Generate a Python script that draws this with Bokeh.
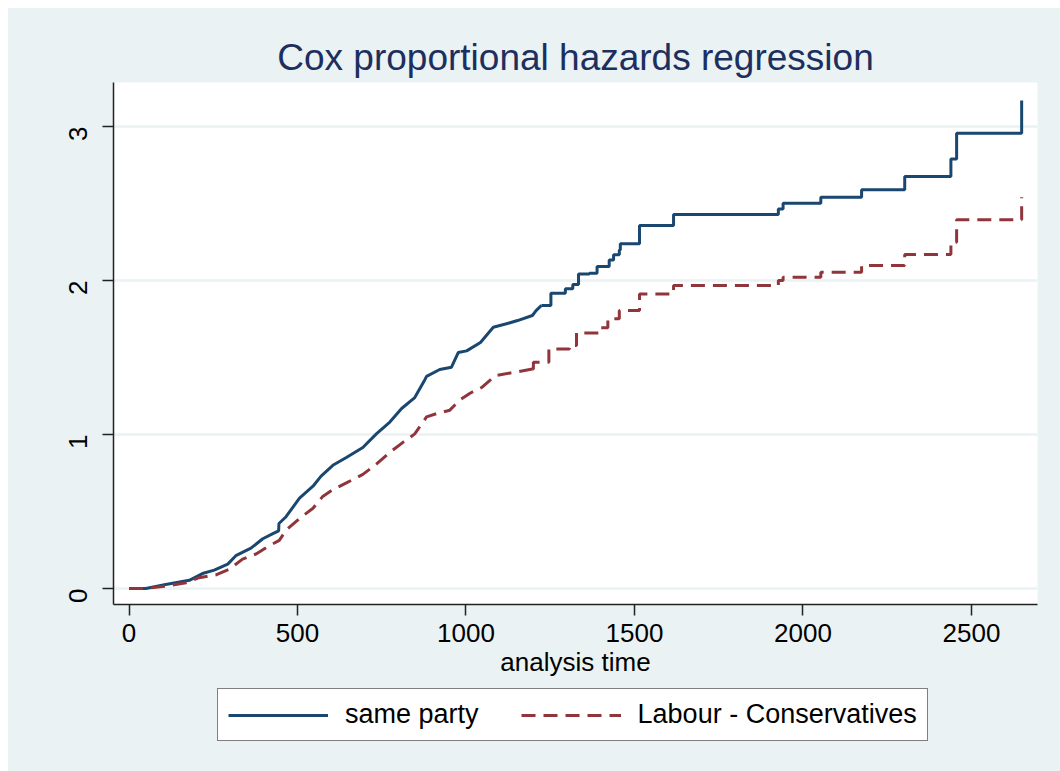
import math
from bokeh.plotting import figure
from bokeh.layouts import column
from bokeh.models import Range1d, FixedTicker, Legend, LegendItem
from bokeh.embed import file_html
from bokeh.resources import INLINE

# ---- data ----
# "same party": dense early part (many small steps) and sparse later steps
same_dense_t = [0, 50, 109, 179, 218, 253, 293, 317, 362, 397, 427, 444, 445, 466, 506, 546,
                570, 605, 645, 694, 734, 774, 809, 848, 878, 883, 922, 957, 977, 1002, 1043,
                1081, 1120, 1153, 1197, 1208, 1224]
same_dense_h = [0, 0, 0.026, 0.053, 0.097, 0.119, 0.158, 0.213, 0.262, 0.323, 0.356, 0.374, 0.422,
                0.466, 0.587, 0.664, 0.730, 0.800, 0.851, 0.916, 1.004, 1.081, 1.169, 1.240, 1.356,
                1.378, 1.422, 1.437, 1.532, 1.543, 1.598, 1.697, 1.719, 1.740, 1.773, 1.805, 1.838]
same_step_t = [1224, 1252, 1295, 1317, 1334, 1366, 1389, 1425, 1438, 1455, 1458, 1515, 1616,
               1927, 1941, 2053, 2174, 2302, 2439, 2456, 2649]
same_step_h = [1.838, 1.918, 1.946, 1.974, 2.043, 2.048, 2.091, 2.134, 2.167, 2.199, 2.238, 2.357,
               2.429, 2.465, 2.502, 2.541, 2.589, 2.675, 2.790, 2.957, 3.169]

# "Labour - Conservatives"
lab_dense_t = [0, 45, 109, 169, 208, 258, 298, 337, 377, 417, 446, 466, 506, 546, 575, 605, 645,
               694, 734, 774, 813, 848, 883, 913, 952, 982, 1012, 1048, 1087, 1147, 1197]
lab_dense_h = [0, 0, 0.015, 0.037, 0.070, 0.088, 0.125, 0.191, 0.224, 0.279, 0.312, 0.378, 0.455,
               0.521, 0.598, 0.642, 0.686, 0.741, 0.807, 0.884, 0.949, 1.004, 1.114, 1.136, 1.158,
               1.224, 1.268, 1.307, 1.383, 1.405, 1.426]
lab_step_t = [1197, 1200, 1246, 1307, 1328, 1394, 1421, 1455, 1515, 1616, 1927, 1941, 2053, 2174,
              2302, 2439, 2456, 2649]
lab_step_h = [1.426, 1.470, 1.556, 1.578, 1.660, 1.693, 1.751, 1.805, 1.913, 1.968, 2.000, 2.022,
              2.054, 2.097, 2.169, 2.249, 2.394, 2.541]

x_ticks = [0, 500, 1000, 1500, 2000, 2500]
y_ticks = [0, 1, 2, 3]

labels = ["same party", "Labour - Conservatives"]
title_text = "Cox proportional hazards regression"
x_label = "analysis time"

BLUE = "#1a476f"
RED = "#90353b"
BG = "#eaf2f3"
FONT = "Liberation Sans"
DASH = "14 8"

p = figure(width=1052, height=677, output_backend="svg", toolbar_location=None,
           x_range=Range1d(-46, 2696), y_range=Range1d(-0.104, 3.286),
           min_border_left=105, min_border_right=23, min_border_top=74, min_border_bottom=81)

p.border_fill_color = BG
p.background_fill_color = "white"
p.outline_line_color = None

p.title.text = title_text
p.title.align = "center"
p.title.text_font = FONT
p.title.text_font_size = "37px"
p.title.text_font_style = "normal"
p.title.text_color = "#1c2f5e"

for ax in (p.xaxis[0], p.yaxis[0]):
    ax.axis_line_color = "#222222"
    ax.axis_line_width = 1.5
    ax.major_tick_line_color = "#222222"
    ax.major_tick_line_width = 1.5
    ax.major_tick_out = 11
    ax.major_tick_in = 0
    ax.minor_tick_line_color = None
    ax.major_label_text_font = FONT
    ax.major_label_text_font_size = "26px"
    ax.major_label_text_color = "black"

p.xaxis.ticker = FixedTicker(ticks=x_ticks)
p.yaxis.ticker = FixedTicker(ticks=y_ticks)
p.yaxis.major_label_orientation = math.pi / 2
p.xaxis.major_label_standoff = 8
p.yaxis.major_label_standoff = 24
p.xaxis.axis_label = x_label
p.xaxis.axis_label_text_font = FONT
p.xaxis.axis_label_text_font_size = "26px"
p.xaxis.axis_label_text_font_style = "normal"
p.xaxis.axis_label_text_color = "black"
p.xaxis.axis_label_standoff = 2

p.xgrid.grid_line_color = None
p.ygrid.grid_line_color = BG
p.ygrid.grid_line_width = 2.5

p.line(same_dense_t, same_dense_h, line_color=BLUE, line_width=3)
p.step(same_step_t, same_step_h, mode="after", line_color=BLUE, line_width=3)
p.line(lab_dense_t, lab_dense_h, line_color=RED, line_width=3, line_dash=DASH)
p.step(lab_step_t, lab_step_h, mode="after", line_color=RED, line_width=3, line_dash=DASH)

# ---- legend strip: a second, axis-less figure under the plot ----
# (same series, kept out of its view, only so that the legend has glyphs to draw)
p2 = figure(width=1052, height=86, output_backend="svg", toolbar_location=None,
            x_range=Range1d(-3000, -2000), y_range=Range1d(0, 1),
            x_axis_type=None, y_axis_type=None,
            min_border_left=105, min_border_right=23, min_border_top=0, min_border_bottom=0)
p2.border_fill_color = BG
p2.background_fill_color = BG
p2.outline_line_color = None
p2.xgrid.visible = False
p2.ygrid.visible = False

k1 = p2.line(same_dense_t, same_dense_h, line_color=BLUE, line_width=3)
k2 = p2.line(lab_dense_t, lab_dense_h, line_color=RED, line_width=3, line_dash=DASH)

legend = Legend(items=[LegendItem(label=labels[0], renderers=[k1]),
                       LegendItem(label=labels[1], renderers=[k2])],
                location=(104, 30), orientation="horizontal")
legend.label_text_font = FONT
legend.label_text_font_size = "27px"
legend.label_text_color = "black"
legend.glyph_width = 100
legend.glyph_height = 28
legend.label_height = 28
legend.label_standoff = 17
legend.spacing = 42
legend.padding = 10
legend.margin = 0
legend.border_line_color = "black"
legend.border_line_width = 1.2
legend.background_fill_color = "white"
legend.background_fill_alpha = 1
p2.add_layout(legend, "center")

layout = column(p, p2, spacing=0, margin=(8, 0, 0, 8), styles={"background-color": BG})
open("out.html", "w").write(file_html(layout, INLINE))
